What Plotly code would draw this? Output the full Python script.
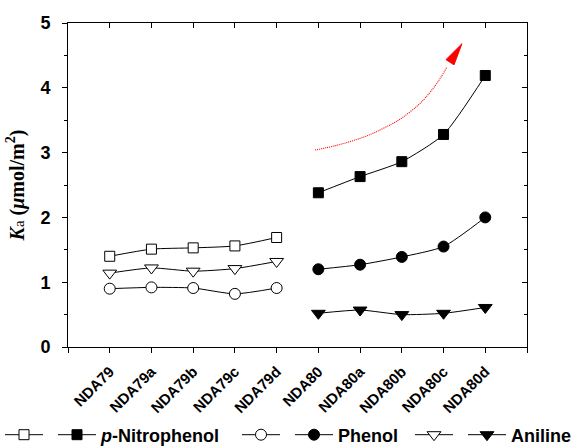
import numpy as np
import plotly.graph_objects as go

categories = ["NDA79", "NDA79a", "NDA79b", "NDA79c", "NDA79d",
              "NDA80", "NDA80a", "NDA80b", "NDA80c", "NDA80d"]
x79 = [1, 2, 3, 4, 5]
x80 = [6, 7, 8, 9, 10]

nitro_79 = [1.40, 1.51, 1.53, 1.56, 1.69]
nitro_80 = [2.38, 2.63, 2.86, 3.28, 4.19]
phenol_79 = [0.90, 0.92, 0.91, 0.82, 0.91]
phenol_80 = [1.20, 1.27, 1.39, 1.55, 2.00]
aniline_79 = [1.14, 1.22, 1.17, 1.21, 1.32]
aniline_80 = [0.52, 0.57, 0.50, 0.52, 0.61]

arrow_x = [5.92, 6.76, 7.56, 8.20, 8.70, 9.08]
arrow_y = [3.04, 3.17, 3.375, 3.63, 3.95, 4.32]
arrow_tip = (9.44, 4.68)

FONT = "Liberation Sans, Arial, sans-serif"
W, H = 572, 448
ML, MR, MT, MB = 68, 45, 23, 101
XR, YR = (0, 11), (0, 5)

fig = go.Figure()

def add(x, y, symbol, name, size, legend, fill):
    fig.add_trace(go.Scatter(
        x=x, y=y, mode="lines+markers", name=name, legend=legend,
        line=dict(color="black", width=1, shape="spline", smoothing=0.6),
        marker=dict(symbol=symbol, size=size, color=fill,
                    line=dict(color="black", width=1)),
    ))

add(x79, nitro_79, "square", "", 10, "legend", "white")
add(x80, nitro_80, "square", "<b><i>p</i>-Nitrophenol</b>", 10, "legend", "black")
add(x79, phenol_79, "circle", "", 11, "legend2", "white")
add(x80, phenol_80, "circle", "<b>Phenol</b>", 11, "legend2", "black")
add(x79, aniline_79, "triangle-down", "", 12, "legend3", "white")
add(x80, aniline_80, "triangle-down", "<b>Aniline</b>", 12, "legend3", "black")

# red dotted trend arrow
fig.add_trace(go.Scatter(
    x=arrow_x, y=arrow_y, mode="lines", showlegend=False, hoverinfo="skip",
    line=dict(color="red", width=1.1, dash="1px,1px", shape="spline", smoothing=1.3),
))
# arrow head (narrow filled triangle), computed in pixel space
sx = (W - ML - MR) / (XR[1] - XR[0])
sy = (H - MT - MB) / (YR[1] - YR[0])
tip = np.array([arrow_tip[0] * sx, arrow_tip[1] * sy])
base_ref = np.array([arrow_x[-1] * sx, arrow_y[-1] * sy])
d = tip - base_ref
d = d / np.linalg.norm(d)
n = np.array([-d[1], d[0]])
head_len, half_w = 22, 4.8
b = tip - d * head_len
p1 = b + n * half_w
p2 = b - n * half_w
path = "M {} {} L {} {} L {} {} Z".format(
    tip[0] / sx, tip[1] / sy, p1[0] / sx, p1[1] / sy, p2[0] / sx, p2[1] / sy)
fig.add_shape(type="path", path=path, xref="x", yref="y",
              fillcolor="red", line=dict(color="red", width=1))

# invisible trace for top/right overlay axes
fig.add_trace(go.Scatter(x=[0], y=[0], xaxis="x2", yaxis="y2", mode="markers",
                         marker=dict(opacity=0), showlegend=False, hoverinfo="skip"))

leg_common = dict(orientation="h", yref="container", y=1 - 435 / H, yanchor="middle",
                  xref="container", xanchor="left", font=dict(size=18, family=FONT),
                  itemwidth=38, bgcolor="rgba(0,0,0,0)", borderwidth=0,
                  tracegroupgap=0)

fig.update_layout(
    width=W, height=H,
    margin=dict(l=ML, r=MR, t=MT, b=MB),
    paper_bgcolor="white", plot_bgcolor="white",
    font=dict(family=FONT, color="black"),
    xaxis=dict(
        range=list(XR), tickmode="array", tickvals=list(range(0, 12)),
        ticktext=[""] + [f"<b>{c}</b>" for c in categories] + [""],
        tickangle=-45, tickfont=dict(size=15, family=FONT),
        ticks="outside", ticklen=5, tickwidth=1, tickcolor="black",
        showline=True, linecolor="black", linewidth=1, showgrid=False, zeroline=False,
        automargin=False, ticklabelstandoff=4,
    ),
    yaxis=dict(
        range=list(YR), tickmode="array", tickvals=[0, 1, 2, 3, 4, 5],
        ticktext=[f"<b>{v}</b>" for v in range(6)],
        tickfont=dict(size=18, family=FONT),
        ticks="outside", ticklen=5, tickwidth=1, tickcolor="black",
        minor=dict(tickvals=[0.5, 1.5, 2.5, 3.5, 4.5], ticks="outside", ticklen=3,
                   tickcolor="black", tickwidth=1),
        showline=True, linecolor="black", linewidth=1, showgrid=False, zeroline=False,
        automargin=False, ticklabelstandoff=8,
        title=dict(text="<b><i>K</i></b><span style='font-size:15px'>a</span> <b>(<i>μ</i>mol/m<sup>2</sup>)</b>",
                   font=dict(family="Liberation Serif, Times New Roman, serif", size=20),
                   standoff=10),
    ),
    xaxis2=dict(
        overlaying="x", side="top", range=list(XR), tickmode="array",
        tickvals=list(range(0, 12)), showticklabels=False,
        ticks="inside", ticklen=5, tickcolor="black",
        showline=True, linecolor="black", linewidth=1, showgrid=False, zeroline=False,
    ),
    yaxis2=dict(
        overlaying="y", side="right", range=list(YR), tickmode="array",
        tickvals=[0, 1, 2, 3, 4, 5], showticklabels=False,
        ticks="inside", ticklen=5, tickcolor="black",
        minor=dict(tickvals=[0.5, 1.5, 2.5, 3.5, 4.5], ticks="inside", ticklen=3,
                   tickcolor="black"),
        showline=True, linecolor="black", linewidth=1, showgrid=False, zeroline=False,
    ),
    legend=dict(x=0 / W, **leg_common),
    legend2=dict(x=237 / W, **leg_common),
    legend3=dict(x=410 / W, **leg_common),
)

fig.write_html("out.html")
